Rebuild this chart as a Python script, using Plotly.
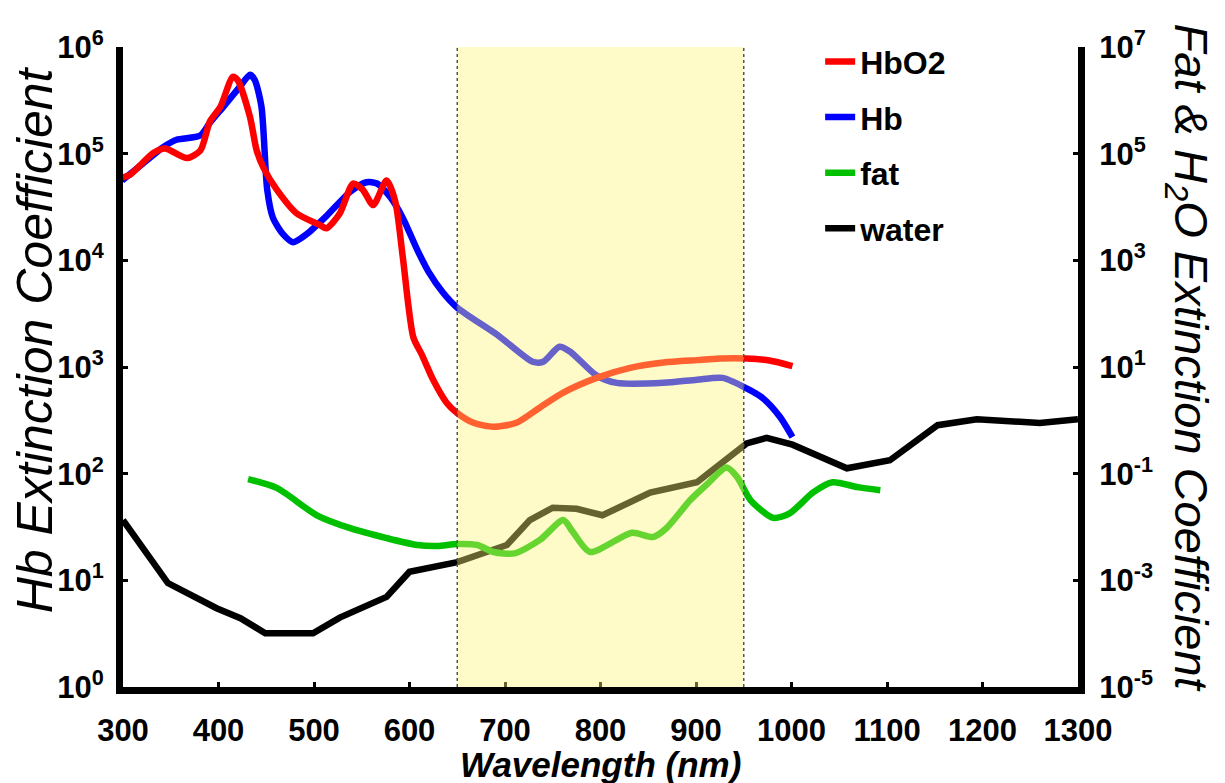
import plotly.graph_objects as go

# ---------------- data ----------------
hbo2_wl = [300, 307, 332, 344, 367, 381, 391, 402, 415, 420, 433, 440, 447, 461, 482, 506, 513,
           527, 541, 551, 562, 576, 585, 593, 604, 613, 625, 639, 650, 667, 688, 712, 737, 761,
           796, 831, 866, 901, 925, 953, 977, 1001]
hbo2_val = [6.0e4, 6.3e4, 1.02e5, 1.12e5, 9.1e4, 1.07e5, 2.0e5, 2.75e5, 5.25e5, 4.9e5, 2.2e5,
            1.07e5, 7.4e4, 4.6e4, 2.75e4, 2.15e4, 2.0e4, 2.75e4, 5.25e4, 4.6e4, 3.3e4, 5.6e4,
            3.6e4, 1.07e4, 1.9e3, 1.3e3, 7.5e2, 4.6e2, 3.7e2, 3.0e2, 2.75e2, 3.0e2, 4.2e2,
            5.75e2, 7.9e2, 9.8e2, 1.1e3, 1.16e3, 1.2e3, 1.2e3, 1.15e3, 1.02e3]

hb_wl = [299, 321, 342, 356, 381, 391, 405, 422, 433, 438, 445, 451, 457, 468, 478, 493, 513,
         538, 555, 566, 580, 593, 608, 620, 635, 650, 692, 729, 740, 757, 768, 796, 817, 866,
         901, 928, 953, 970, 988, 1001]
hb_val = [5.6e4, 8.1e4, 1.15e5, 1.35e5, 1.48e5, 1.95e5, 2.75e5, 4.2e5, 5.5e5, 4.9e5, 2.75e5,
          4.6e4, 2.5e4, 1.74e4, 1.48e4, 1.78e4, 2.6e4, 4.4e4, 5.4e4, 5.25e4, 3.9e4, 2.5e4,
          1.26e4, 7.8e3, 5.0e3, 3.6e3, 2.0e3, 1.12e3, 1.12e3, 1.55e3, 1.4e3, 8.3e2, 7.1e2,
          7.1e2, 7.6e2, 7.9e2, 6.3e2, 5.1e2, 3.4e2, 2.2e2]

fat_wl = [431, 461, 503, 538, 576, 608, 629, 650, 671, 688, 710, 737, 761, 771, 789, 833, 855,
          869, 894, 911, 932, 943, 957, 981, 998, 1023, 1043, 1069, 1093]
fat_val = [0.079, 0.054, 0.0166, 0.0095, 0.0062, 0.0046, 0.0044, 0.0048, 0.0046, 0.0034, 0.0032,
           0.0058, 0.0135, 0.0081, 0.0034, 0.0078, 0.0065, 0.0095, 0.032, 0.062, 0.13, 0.087,
           0.032, 0.0148, 0.018, 0.045, 0.069, 0.056, 0.049]

water_wl = [300, 347, 398, 423, 449, 499, 527, 551, 576, 600, 650, 702, 726, 750, 775, 802, 852,
            901, 953, 974, 1001, 1058, 1103, 1153, 1194, 1260, 1300]
water_val = [0.0135, 8.9e-4, 3.0e-4, 1.95e-4, 1.02e-4, 1.02e-4, 2.0e-4, 3.0e-4, 4.9e-4, 1.45e-3,
             2.2e-3, 4.6e-3, 0.0135, 0.023, 0.022, 0.0166, 0.044, 0.069, 0.37, 0.47, 0.35, 0.126,
             0.178, 0.81, 1.05, 0.89, 1.05]

window_nm = [650, 950]

x_ticks = [300, 400, 500, 600, 700, 800, 900, 1000, 1100, 1200, 1300]
left_exp = [0, 1, 2, 3, 4, 5, 6]
right_exp = [-5, -3, -1, 1, 3, 5, 7]

FONT = "Liberation Sans, Arial, sans-serif"

fig = go.Figure()

fig.add_trace(go.Scatter(x=water_wl, y=water_val, name="water", yaxis="y2", mode="lines",
                         line=dict(color="#000000", width=6.5), legendrank=4, legendgroup="d"))
fig.add_trace(go.Scatter(x=fat_wl, y=fat_val, name="fat", yaxis="y2", mode="lines",
                         line=dict(color="#00C000", width=6.5, shape="spline", smoothing=0.7),
                         legendrank=3, legendgroup="c"))
fig.add_trace(go.Scatter(x=hb_wl, y=hb_val, name="Hb", mode="lines",
                         line=dict(color="#0000FF", width=6.5, shape="spline", smoothing=0.7),
                         legendrank=2, legendgroup="b"))
fig.add_trace(go.Scatter(x=hbo2_wl, y=hbo2_val, name="HbO2", mode="lines",
                         line=dict(color="#FF0000", width=6.5, shape="spline", smoothing=0.7),
                         legendrank=1, legendgroup="a"))

# highlighted window
fig.add_shape(type="rect", xref="x", yref="paper", x0=window_nm[0], x1=window_nm[1], y0=0, y1=1,
              fillcolor="rgb(255,245,120)", opacity=0.4, line=dict(width=0), layer="above")
for xv in window_nm:
    fig.add_shape(type="line", xref="x", yref="paper", x0=xv, x1=xv, y0=0, y1=1,
                  line=dict(color="#555555", width=1.5, dash="dot"), layer="above")

axis_common = dict(showline=True, linecolor="black", linewidth=7, ticks="inside",
                   ticklen=5, tickwidth=3, tickcolor="black", showgrid=False, zeroline=False,
                   tickfont=dict(family=FONT, size=31, color="black", weight="bold"))

# the page body has an 8px default margin, so the figure is 8px smaller and shifted
fig.update_layout(
    width=1217, height=775,
    margin=dict(l=115, r=147, t=39, b=96),
    paper_bgcolor="white", plot_bgcolor="white",
    xaxis=dict(range=[300, 1300], tickvals=x_ticks, ticktext=[str(v) for v in x_ticks],
               ticklabelstandoff=10, **axis_common),
    yaxis=dict(type="log", range=[0, 6], tickvals=[10 ** e for e in left_exp],
               ticktext=[f"10<sup>{e}</sup>" for e in left_exp], ticklabelstandoff=6,
               **axis_common),
    yaxis2=dict(type="log", range=[-5, 7], overlaying="y", side="right",
                tickvals=[10.0 ** e for e in right_exp],
                ticktext=[f"10<sup>{e}</sup>" for e in right_exp], ticklabelstandoff=8,
                **axis_common),
    legend=dict(x=0.73, y=1.02, xanchor="left", yanchor="top", bgcolor="rgba(0,0,0,0)",
                font=dict(family=FONT, size=32, color="black", weight="bold"),
                tracegroupgap=11, itemwidth=30),
    showlegend=True,
    annotations=[
        dict(text="<i>Wavelength (nm)</i>", xref="paper", yref="paper", x=0.5, y=-0.121,
             xanchor="center", yanchor="middle", showarrow=False,
             font=dict(family=FONT, size=35, color="black", weight="bold")),
        dict(text="<i>Hb Extinction Coefficient</i>", xref="paper", yref="paper",
             x=-0.092, y=0.542, xanchor="center", yanchor="middle", textangle=-90,
             showarrow=False, font=dict(family=FONT, size=50, color="black")),
        dict(text="<i>Fat &amp; H<sub>2</sub>O Extinction Coefficient</i>", xref="paper",
             yref="paper", x=1.115, y=0.515, xanchor="center", yanchor="middle", textangle=90,
             showarrow=False, font=dict(family=FONT, size=47, color="black")),
    ],
)

fig.write_html("out.html")
